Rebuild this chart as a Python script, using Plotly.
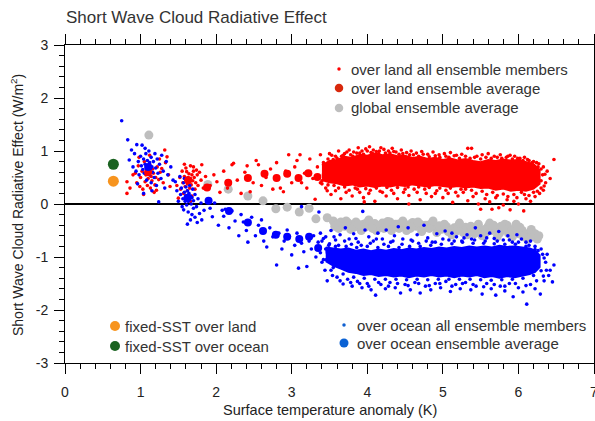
import plotly.graph_objects as go

# ---------------- DATA ----------------
# global ensemble average (grey)
global_avg = [(1.11,1.30),(1.89,0.37),(2.16,0.28),(2.42,0.15),(2.62,0.06),(2.79,-0.09),(2.94,-0.06),
    (3.10,-0.15),(3.23,-0.08),(3.32,-0.28),(3.47,-0.26),(3.55,-0.32),(3.60,-0.38),(3.65,-0.34),(3.70,-0.42),
    (3.75,-0.36),(3.80,-0.40),(3.85,-0.34),(3.90,-0.44),(3.95,-0.38),(4.00,-0.35),(4.05,-0.42),(4.10,-0.37),
    (4.15,-0.45),(4.20,-0.36),(4.25,-0.40),(4.30,-0.34),(4.35,-0.43),(4.40,-0.38),(4.45,-0.36),(4.50,-0.44),
    (4.55,-0.39),(4.60,-0.35),(4.65,-0.42),(4.70,-0.38),(4.75,-0.46),(4.80,-0.40),(4.85,-0.37),(4.90,-0.44),
    (4.95,-0.41),(5.00,-0.47),(5.05,-0.43),(5.10,-0.50),(5.15,-0.45),(5.20,-0.42),(5.25,-0.49),(5.30,-0.44),
    (5.35,-0.52),(5.40,-0.47),(5.45,-0.45),(5.50,-0.52),(5.55,-0.48),(5.60,-0.42),(5.65,-0.50),(5.70,-0.45),
    (5.75,-0.55),(5.80,-0.48),(5.85,-0.40),(5.90,-0.52),(5.95,-0.46),(6.00,-0.56),(6.05,-0.50),(6.10,-0.58),
    (6.15,-0.54),(6.20,-0.62),(6.25,-0.66),(3.62,-0.46),(3.78,-0.48),(3.92,-0.50),(4.12,-0.50),(4.32,-0.50),
    (4.52,-0.50),(4.72,-0.52),(4.92,-0.54),(5.12,-0.58),(5.32,-0.58),(5.52,-0.60),(5.72,-0.62),(5.92,-0.62),
    (6.12,-0.66),(5.62,-0.36),(5.82,-0.38),(6.02,-0.44),
    (3.57,-0.42),(3.67,-0.40),(3.72,-0.32),(3.82,-0.44),(3.88,-0.38),(3.97,-0.44),(4.02,-0.30),(4.07,-0.46),
    (4.17,-0.40),(4.22,-0.46),(4.27,-0.33),(4.37,-0.38),(4.42,-0.46),(4.47,-0.32),(4.57,-0.46),(4.62,-0.40),
    (4.67,-0.34),(4.77,-0.40),(4.82,-0.46),(4.87,-0.32),(4.97,-0.48),(5.02,-0.38),(5.07,-0.52),(5.17,-0.52),
    (5.22,-0.36),(5.27,-0.54),(5.37,-0.42),(5.42,-0.56),(5.47,-0.38),(5.57,-0.54),(5.67,-0.40),(5.77,-0.42),
    (5.87,-0.56),(5.97,-0.38),(6.07,-0.62),(6.17,-0.48),(6.22,-0.56),(6.27,-0.60)]

# over land ensemble average (red, large)
land_avg = [(1.10,0.60),(1.63,0.45),(1.88,0.31),(2.16,0.40),(2.42,0.49),(2.64,0.57),(2.80,0.49),(2.94,0.57),
    (3.09,0.49),(3.22,0.58),(3.34,0.51),(3.45,0.55),(3.55,0.58),(3.70,0.60),(3.85,0.62),(4.00,0.64),
    (4.20,0.65),(4.40,0.64),(4.60,0.62),(4.80,0.60),(5.00,0.60),(5.20,0.58),(5.40,0.56),(5.60,0.55),
    (5.80,0.54),(6.00,0.52),(6.20,0.50)]

# over ocean ensemble average (blue, large)
ocean_avg = [(1.10,0.70),(1.62,0.12),(1.90,0.06),(2.17,-0.13),(2.42,-0.35),(2.62,-0.51),(2.79,-0.58),
    (2.94,-0.62),(3.10,-0.66),(3.23,-0.62),(3.35,-0.83),(3.50,-0.90),(3.65,-0.95),(3.80,-1.00),(4.00,-1.05),
    (4.20,-1.08),(4.40,-1.10),(4.60,-1.10),(4.80,-1.10),(5.00,-1.08),(5.20,-1.08),(5.40,-1.06),(5.60,-1.06),
    (5.80,-1.08),(6.00,-1.08),(6.20,-1.10)]

# fixed-SST runs
fixed_sst_land = [(0.64,0.43)]
fixed_sst_ocean = [(0.64,0.75)]

# over land, all ensemble members: dense core envelope (x, top, bottom)
land_core_x   = [3.40,3.50,3.60,3.70,3.80,3.90,4.00,4.10,4.20,4.30,4.40,4.50,4.60,4.70,4.80,
                 4.90,5.00,5.10,5.20,5.30,5.40,5.50,5.60,5.70,5.80,5.90,6.00,6.10,6.20,6.28]
land_core_top = [0.73,0.81,0.83,0.89,0.87,0.93,0.91,0.95,0.92,0.94,0.90,0.91,0.87,0.89,0.85,
                 0.87,0.83,0.86,0.82,0.85,0.81,0.79,0.83,0.81,0.84,0.82,0.83,0.79,0.75,0.64]
land_core_bot = [0.45,0.41,0.39,0.35,0.37,0.33,0.35,0.32,0.35,0.33,0.36,0.34,0.37,0.35,0.33,
                 0.36,0.34,0.32,0.34,0.31,0.33,0.30,0.31,0.27,0.29,0.25,0.27,0.25,0.29,0.38]

# over ocean, all ensemble members: dense core envelope
ocean_core_x   = [3.45,3.55,3.65,3.75,3.85,3.95,4.05,4.15,4.25,4.35,4.45,4.55,4.65,4.75,4.85,
                  4.95,5.05,5.15,5.25,5.35,5.45,5.55,5.65,5.75,5.85,5.95,6.05,6.15,6.22,6.28]
ocean_core_top = [-0.82,-0.84,-0.86,-0.84,-0.88,-0.86,-0.89,-0.86,-0.88,-0.85,-0.87,-0.84,-0.86,-0.83,-0.85,
                  -0.82,-0.84,-0.81,-0.83,-0.80,-0.82,-0.80,-0.82,-0.79,-0.81,-0.80,-0.82,-0.84,-0.88,-0.97]
ocean_core_bot = [-1.08,-1.16,-1.22,-1.28,-1.30,-1.34,-1.32,-1.36,-1.34,-1.37,-1.35,-1.38,-1.35,-1.37,-1.34,
                  -1.37,-1.35,-1.38,-1.35,-1.37,-1.34,-1.38,-1.36,-1.39,-1.36,-1.38,-1.35,-1.32,-1.28,-1.19]

# over land, individual members (outside the dense core)
land_members = [
    (0.82,0.42),(0.82,0.20),(0.86,0.30),(0.90,0.55),(0.93,0.58),(0.95,0.40),(0.97,0.72),(0.99,0.33),(1.00,0.50),
    (1.02,0.62),(1.03,0.28),(1.05,0.80),(1.06,0.42),(1.07,0.55),(1.08,0.68),(1.09,0.35),(1.10,0.48),(1.11,0.60),
    (1.12,0.75),(1.13,0.30),(1.14,0.52),(1.15,0.44),(1.16,0.66),(1.17,0.58),(1.18,0.22),(1.19,0.36),(1.20,0.50),
    (1.21,0.26),(1.22,0.70),(1.24,0.46),(1.25,0.85),(1.26,0.60),(1.28,0.67),(1.30,0.40),(1.32,1.02),(1.33,0.78),
    (1.35,0.89),(1.37,0.55),(1.39,0.33),(1.04,0.18),(1.12,0.92),(0.98,0.88),
    (1.48,0.35),(1.50,0.11),(1.52,0.50),(1.53,0.28),(1.55,0.62),(1.56,0.40),(1.57,0.20),(1.58,0.52),(1.59,0.33),
    (1.60,0.45),(1.60,0.68),(1.61,0.61),(1.62,0.38),(1.62,0.25),(1.63,0.50),(1.64,0.42),(1.64,0.57),(1.65,0.30),
    (1.66,0.48),(1.66,0.72),(1.67,0.36),(1.68,0.55),(1.68,0.15),(1.69,0.44),(1.70,0.70),(1.70,0.62),(1.71,0.50),
    (1.72,0.28),(1.73,0.40),(1.74,0.64),(1.75,0.55),(1.76,0.35),(1.78,0.60),(1.80,0.45),(1.81,0.74),(1.83,0.30),
    (1.86,0.52),(1.58,0.75),(1.66,0.05),
    (1.92,0.35),(1.97,0.55),(2.01,0.42),(2.05,0.22),(2.10,0.62),(2.15,0.30),(2.21,0.74),(2.23,0.77),(2.28,0.45),
    (2.33,0.20),(2.38,0.60),(2.41,0.72),(2.45,0.23),(2.49,0.40),(2.53,0.82),(2.56,0.74),(2.60,0.35),(2.66,0.50),
    (2.72,0.66),(2.75,0.28),(2.80,0.78),(2.85,0.30),(2.89,0.23),(2.92,0.62),(2.96,0.93),(3.00,0.40),(3.04,0.70),
    (3.07,0.82),(3.11,0.93),(3.13,0.40),(3.17,0.58),(3.20,0.30),(3.24,0.85),(3.28,0.48),(3.31,0.09),(3.34,0.70),
    (3.38,0.93),(3.40,0.38),(3.44,0.60),(3.47,0.25),
    (3.50,0.95),(3.58,0.90),(3.62,1.00),(3.70,0.95),(3.76,1.02),(3.82,0.98),(3.88,1.06),(3.93,1.00),(3.98,1.04),
    (4.03,1.08),(4.08,1.02),(4.12,0.99),(4.18,1.06),(4.22,1.03),(4.28,1.00),(4.33,1.05),(4.38,0.98),(4.45,1.02),
    (4.52,0.97),(4.58,1.00),(4.65,0.96),(4.72,0.99),(4.80,0.94),(4.87,0.98),(4.95,0.93),(5.02,0.95),(5.10,0.97),
    (5.18,0.92),(5.25,0.94),(5.33,1.05),(5.38,1.05),(5.45,0.90),(5.52,0.93),(5.60,0.95),(5.68,0.90),(5.76,0.93),
    (5.84,0.88),(5.89,0.92),(5.95,0.90),(6.02,0.86),(6.08,0.88),(6.14,0.82),(6.20,0.80),(6.27,0.76),(6.33,0.70),
    (6.38,0.62),(6.47,0.84),(6.42,0.48),(6.36,0.40),
    (3.45,0.30),(3.52,0.18),(3.58,0.25),(3.65,0.10),(3.72,0.22),(3.80,0.15),(3.87,0.28),(3.95,0.12),(4.02,0.20),
    (4.10,0.05),(4.17,0.24),(4.25,0.15),(4.32,0.26),(4.40,0.10),(4.48,0.22),(4.55,0.16),(4.62,0.28),(4.70,0.08),
    (4.78,0.20),(4.85,0.14),(4.92,0.25),(5.00,0.12),(5.07,0.20),(5.13,0.03),(5.20,0.15),(5.27,0.22),(5.33,0.06),
    (5.40,0.14),(5.47,0.00),(5.50,-0.10),(5.56,0.10),(5.62,0.04),(5.65,-0.10),(5.70,0.12),(5.74,-0.07),(5.80,-0.02),
    (5.85,0.08),(5.89,-0.11),(5.94,0.05),(6.00,0.00),(6.07,-0.13),(6.10,0.10),(6.16,0.05),(6.22,0.14),(6.28,0.20),
    (6.33,0.26),(3.96,0.04),(4.55,0.00),
    (3.55,0.84),(3.66,0.90),(3.78,0.93),(3.90,0.96),(4.05,0.97),(4.15,0.95),(4.30,0.96),(4.42,0.94),(4.56,0.93),
    (4.68,0.90),(4.82,0.89),(4.96,0.88),(5.08,0.88),(5.22,0.86),(5.36,0.86),(5.50,0.85),(5.64,0.86),(5.78,0.86),
    (5.92,0.85),(6.06,0.82),(6.18,0.78),(6.26,0.70),(6.32,0.55),
    (3.40,0.44),(3.56,0.35),(3.70,0.32),(3.84,0.30),(3.98,0.29),(4.12,0.30),(4.26,0.31),(4.40,0.31),(4.54,0.32),
    (4.68,0.32),(4.82,0.31),(4.96,0.30),(5.10,0.30),(5.24,0.28),(5.38,0.26),(5.52,0.24),(5.66,0.22),(5.80,0.19),
    (5.94,0.18),(6.08,0.18),(6.20,0.22),(6.30,0.30),
    (3.42,0.78),(3.48,0.85),(3.53,0.92),(3.60,0.86),(3.68,0.92),(3.73,0.98),(3.81,0.90),(3.86,0.96),(3.95,0.94),
    (4.00,1.00),(4.07,0.95),(4.16,1.00),(4.24,0.96),(4.35,0.99),(4.47,0.95),(4.61,0.93),(4.74,0.94),(4.90,0.91),
    (5.04,0.90),(5.15,0.91),(5.30,0.90),(5.42,0.88),(5.57,0.88),(5.72,0.88),(5.86,0.90),(5.99,0.86),(6.12,0.84),
    (6.24,0.78),(6.30,0.66),(6.35,0.56),
    (3.38,0.40),(3.48,0.36),(3.62,0.30),(3.76,0.26),(3.90,0.22),(4.04,0.26),(4.20,0.22),(4.35,0.20),(4.50,0.28),
    (4.66,0.22),(4.76,0.28),(4.90,0.20),(5.04,0.26),(5.17,0.22),(5.30,0.28),(5.44,0.20),(5.58,0.18),(5.72,0.16),
    (5.86,0.14),(5.98,0.12),(6.04,0.22),(6.14,0.16),(6.25,0.24),(6.34,0.34),(6.30,0.44)]

# over ocean, individual members (outside the dense core)
ocean_members = [
    (0.75,1.57),(0.83,1.21),(0.85,0.83),(0.88,1.02),(0.90,0.70),(0.92,0.95),(0.94,0.62),(0.95,1.12),(0.97,0.80),
    (0.98,0.55),(1.00,0.90),(1.01,0.72),(1.02,1.11),(1.03,0.65),(1.04,0.20),(1.04,0.85),(1.05,0.58),(1.06,0.75),
    (1.07,0.95),(1.08,0.68),(1.08,0.45),(1.09,0.82),(1.10,0.62),(1.10,0.72),(1.11,1.00),(1.12,0.55),(1.12,0.78),
    (1.13,0.66),(1.14,0.88),(1.14,0.40),(1.15,0.70),(1.16,0.60),(1.17,0.80),(1.18,0.50),(1.19,0.95),(1.20,0.68),
    (1.21,0.35),(1.22,0.85),(1.23,0.58),(1.24,0.04),(1.25,0.75),(1.27,0.48),(1.28,0.92),(1.30,0.62),(1.32,0.30),
    (1.34,0.80),(1.36,0.55),(1.40,0.70),(1.43,0.45),(1.06,1.05),(0.96,0.38),(1.15,0.25),
    (1.46,0.42),(1.48,0.25),(1.50,0.05),(1.52,0.52),(1.53,0.18),(1.54,0.30),(1.55,-0.05),(1.56,0.10),(1.57,-0.11),
    (1.57,0.40),(1.58,0.22),(1.59,0.05),(1.60,0.15),(1.60,0.32),(1.61,-0.02),(1.62,0.12),(1.62,0.25),(1.63,0.05),
    (1.63,-0.15),(1.64,0.20),(1.65,0.08),(1.65,0.35),(1.66,-0.30),(1.66,0.15),(1.67,0.00),(1.68,0.12),(1.68,-0.20),
    (1.69,0.28),(1.70,0.06),(1.70,-0.08),(1.72,-0.25),(1.72,0.18),(1.74,-0.05),(1.75,-0.35),(1.76,0.10),
    (1.78,-0.18),(1.80,0.02),(1.81,-0.30),(1.84,-0.12),(1.88,0.05),(1.92,-0.08),(1.62,-0.38),(1.58,0.48),
    (1.95,-0.24),(1.98,0.02),(2.03,-0.40),(2.08,-0.12),(2.10,-0.23),(2.12,-0.10),(2.17,-0.45),(2.21,-0.13),
    (2.25,-0.32),(2.30,-0.60),(2.33,-0.20),(2.36,-0.34),(2.40,-0.50),(2.42,-0.72),(2.47,-0.25),(2.52,-0.60),
    (2.56,-0.40),(2.60,-0.30),(2.63,-0.70),(2.67,-0.81),(2.71,-0.45),(2.75,-0.62),(2.80,-1.15),(2.83,-0.55),
    (2.87,-0.85),(2.90,-0.70),(2.94,-0.49),(2.97,-0.62),(3.00,-0.96),(3.04,-0.78),(3.07,-0.55),(3.09,-1.21),
    (3.13,-0.74),(3.16,-0.90),(3.20,-1.18),(3.23,-0.70),(3.26,-0.85),(3.29,-0.60),(3.32,-1.00),(3.35,-0.72),
    (3.38,-0.92),(3.42,-0.65),(3.46,-1.05),(3.49,-0.78),(3.36,-0.15),(3.13,-0.05),
    (3.38,-0.55),(3.45,-0.62),(3.52,-0.50),(3.58,-0.68),(3.64,-0.58),(3.71,-0.45),(3.76,-0.66),(3.82,-0.56),
    (3.88,-0.72),(3.94,-0.14),(3.97,-0.49),(4.02,-0.62),(4.08,-0.70),(4.14,-0.55),(4.20,-0.66),(4.25,-0.49),
    (4.31,-0.72),(4.36,-0.60),(4.41,-0.43),(4.47,-0.66),(4.54,-0.45),(4.60,-0.70),(4.66,-0.58),(4.75,-0.40),
    (4.80,-0.64),(4.86,-0.72),(4.92,-0.56),(5.03,-0.51),(5.08,-0.68),(5.12,-0.55),(5.18,-0.62),(5.25,-0.70),
    (5.32,-0.58),(5.38,-0.66),(5.43,-0.45),(5.50,-0.60),(5.56,-0.70),(5.62,-0.55),(5.68,-0.65),(5.74,-0.52),
    (5.80,-0.68),(5.86,-0.60),(5.92,-0.72),(5.98,-0.58),(6.04,-0.66),(6.10,-0.72),(6.16,-0.70),(6.22,-0.80),
    (6.30,-0.85),(6.38,-0.95),
    (3.40,-1.10),(3.47,-1.45),(3.52,-1.25),(3.60,-1.38),(3.68,-1.51),(3.74,-1.42),(3.80,-1.55),(3.87,-1.46),
    (3.93,-1.58),(4.00,-1.50),(4.05,-1.62),(4.11,-1.72),(4.18,-1.52),(4.24,-1.60),(4.30,-1.48),(4.37,-1.58),
    (4.44,-1.68),(4.50,-1.52),(4.57,-1.62),(4.63,-1.48),(4.70,-1.68),(4.77,-1.55),(4.84,-1.62),(4.90,-1.50),
    (4.97,-1.58),(5.04,-1.46),(5.10,-1.65),(5.17,-1.52),(5.23,-1.60),(5.30,-1.48),(5.37,-1.62),(5.44,-1.55),
    (5.52,-1.70),(5.58,-1.50),(5.64,-1.60),(5.70,-1.72),(5.76,-1.55),(5.82,-1.64),(5.88,-1.50),(5.93,-1.75),
    (6.00,-1.58),(6.06,-1.66),(6.11,-1.89),(6.16,-1.52),(6.22,-1.60),(6.29,-1.70),(6.34,-1.45),(6.40,-1.35),
    (6.45,-1.47),(6.47,-1.15),(6.37,-1.25),
    (3.45,-0.85),(3.58,-0.80),(3.72,-0.80),(3.86,-0.82),(4.00,-0.80),(4.14,-0.82),(4.28,-0.80),(4.42,-0.82),
    (4.56,-0.80),(4.70,-0.80),(4.84,-0.78),(4.98,-0.76),(5.12,-0.75),(5.26,-0.72),(5.40,-0.74),(5.54,-0.74),
    (5.68,-0.75),(5.82,-0.76),(5.96,-0.76),(6.10,-0.80),(6.22,-0.86),(6.32,-0.95),
    (3.42,-1.05),(3.55,-1.20),(3.68,-1.32),(3.82,-1.38),(3.96,-1.40),(4.10,-1.42),(4.24,-1.42),(4.38,-1.42),
    (4.52,-1.43),(4.66,-1.42),(4.80,-1.43),(4.94,-1.42),(5.08,-1.42),(5.22,-1.42),(5.36,-1.42),(5.50,-1.43),
    (5.64,-1.44),(5.78,-1.43),(5.92,-1.42),(6.06,-1.40),(6.20,-1.35),(6.30,-1.26),
    (3.40,-0.70),(3.50,-0.75),(3.56,-0.62),(3.62,-0.78),(3.70,-0.70),(3.79,-0.76),(3.85,-0.65),(3.92,-0.78),
    (4.04,-0.74),(4.12,-0.66),(4.22,-0.76),(4.34,-0.70),(4.46,-0.76),(4.58,-0.68),(4.68,-0.74),(4.78,-0.70),
    (4.90,-0.72),(5.00,-0.66),(5.15,-0.70),(5.28,-0.64),(5.42,-0.68),(5.58,-0.64),(5.72,-0.70),(5.88,-0.68),
    (6.00,-0.72),(6.14,-0.78),(6.26,-0.88),(6.34,-1.02),
    (3.44,-1.25),(3.54,-1.35),(3.64,-1.45),(3.78,-1.48),(3.90,-1.50),(4.02,-1.55),(4.15,-1.48),(4.28,-1.55),
    (4.40,-1.50),(4.54,-1.54),(4.68,-1.50),(4.82,-1.54),(4.96,-1.50),(5.12,-1.55),(5.26,-1.50),(5.40,-1.52),
    (5.54,-1.56),(5.68,-1.52),(5.82,-1.55),(5.96,-1.50),(6.10,-1.54),(6.24,-1.45),(6.33,-1.36),(6.42,-1.25),
    (6.36,-1.10)]

x_tick_vals = [0, 1, 2, 3, 4, 5, 6, 7]
x_tick_text = ["0", "1", "2", "3", "4", "5", "6", "7"]
y_tick_vals = [-3, -2, -1, 0, 1, 2, 3]
y_tick_text = ["-3", "-2", "-1", "0", "1", "2", "3"]

legend_top = ["over land all ensemble members", "over land ensemble average", "global ensemble average"]
legend_left = ["fixed-SST over land", "fixed-SST over ocean"]
legend_right = ["over ocean all ensemble members", "over ocean ensemble average"]

# ---------------- STYLE ----------------
FONT = "Liberation Sans, Arial, Helvetica, sans-serif"
TXT = "#222222"
RED = "#ff0000"
BLUE = "#0000ff"
GREY = "#bebebe"
ORANGE = "#f7941e"
GREEN = "#1b6321"

def xs(pts):
    return [p[0] for p in pts]

def ys(pts):
    return [p[1] for p in pts]

fig = go.Figure()

def dots(pts, color, size):
    fig.add_trace(go.Scatter(x=xs(pts), y=ys(pts), mode="markers",
                             marker=dict(color=color, size=size, line=dict(width=0)),
                             showlegend=False, hoverinfo="skip"))

def band(xv, top, bot, color):
    fig.add_trace(go.Scatter(x=xv + xv[::-1], y=top + bot[::-1], mode="lines",
                             fill="toself", fillcolor=color, line=dict(width=2, color=color),
                             showlegend=False, hoverinfo="skip"))

dots(global_avg, GREY, 9)
band(land_core_x, land_core_top, land_core_bot, RED)
band(ocean_core_x, ocean_core_top, ocean_core_bot, BLUE)
dots(land_members, RED, 3.6)
dots(ocean_members, BLUE, 3.6)
dots(land_avg, RED, 8)
dots(ocean_avg, BLUE, 8)
dots(fixed_sst_land, ORANGE, 11)
dots(fixed_sst_ocean, GREEN, 11)

axis_common = dict(showline=True, linecolor="black", linewidth=1, mirror="ticks",
                   ticks="outside", ticklen=10, tickwidth=1, tickcolor="black",
                   showgrid=False, tickfont=dict(family=FONT, size=14, color=TXT),
                   layer="above traces", automargin=False, ticklabeloverflow="allow")

fig.update_xaxes(range=[0, 7], tickvals=x_tick_vals, ticktext=x_tick_text, zeroline=False,
                 ticklabelstandoff=6,
                 minor=dict(dtick=0.2, tick0=0, ticks="outside", ticklen=5, tickcolor="black", showgrid=False),
                 **axis_common)
fig.update_yaxes(range=[-3, 3], tickvals=y_tick_vals, ticktext=y_tick_text,
                 zeroline=True, zerolinecolor="black", zerolinewidth=1.5, ticklabelstandoff=3,
                 minor=dict(dtick=0.2, tick0=0, ticks="outside", ticklen=5, tickcolor="black", showgrid=False),
                 **axis_common)

PW, PH, ML, MT = 529.0, 318.0, 65.0, 45.0

def px2paper(px, py):
    return (px - ML) / PW, (MT + PH - py) / PH

annotations = []
shapes = []

def legend_item(label, dot_px, dot_py, text_px, color, diameter):
    ax, ay = px2paper(dot_px, dot_py)
    tx, _ = px2paper(text_px, dot_py)
    r = diameter / 2.0
    shapes.append(dict(type="circle", xref="paper", yref="paper", xsizemode="pixel", ysizemode="pixel",
                       xanchor=ax, yanchor=ay, x0=-r, x1=r, y0=-r, y1=r,
                       fillcolor=color, line=dict(width=0)))
    annotations.append(dict(text=label, xref="paper", yref="paper", x=tx, y=ay, xanchor="left",
                            yanchor="middle", showarrow=False,
                            font=dict(family=FONT, size=15, color="#333333")))

legend_item(legend_top[0], 339, 69, 349, RED, 3.5)
legend_item(legend_top[1], 339, 88, 349, "#d8280c", 8.5)
legend_item(legend_top[2], 339, 108, 349, GREY, 8.5)
legend_item(legend_left[0], 115, 326, 123, ORANGE, 10)
legend_item(legend_left[1], 115, 346, 123, GREEN, 10)
legend_item(legend_right[0], 344, 325, 355, "#1060d0", 3.5)
legend_item(legend_right[1], 344, 343, 355, "#0b62d4", 9)

# titles
tx, ty = px2paper(64, 18)
annotations.append(dict(text="Short Wave Cloud Radiative Effect", xref="paper", yref="paper", x=tx, y=ty,
                        xanchor="left", yanchor="middle", showarrow=False,
                        font=dict(family=FONT, size=17, color="#333333")))
tx, ty = px2paper(330, 410)
annotations.append(dict(text="Surface temperature anomaly (K)", xref="paper", yref="paper", x=tx, y=ty,
                        xanchor="center", yanchor="middle", showarrow=False,
                        font=dict(family=FONT, size=14.5, color=TXT)))
tx, ty = px2paper(17, 205)
annotations.append(dict(text="Short Wave Cloud Radiative Effect (W/m<sup>2</sup>)", xref="paper", yref="paper",
                        x=tx, y=ty, xanchor="center", yanchor="middle", textangle=-90, showarrow=False,
                        font=dict(family=FONT, size=14, color=TXT)))

fig.update_layout(width=595, height=421, margin=dict(l=65, r=1, t=45, b=58, autoexpand=False),
                  autosize=False,
                  paper_bgcolor="white", plot_bgcolor="white", showlegend=False,
                  annotations=annotations, shapes=shapes)

fig.write_html("out.html", config={"responsive": False})
